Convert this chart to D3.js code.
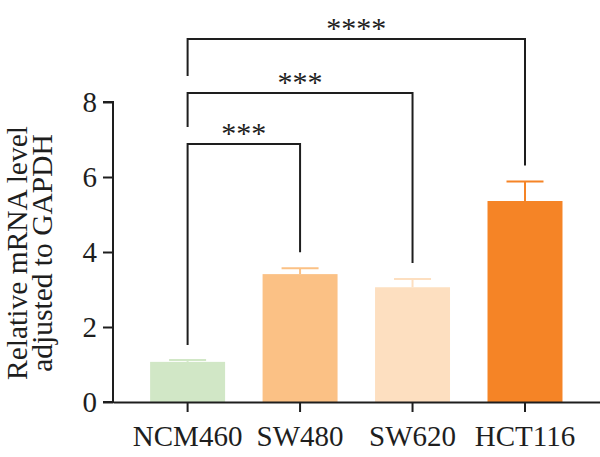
<!DOCTYPE html>
<html>
<head>
<meta charset="utf-8">
<script src="https://cdn.jsdelivr.net/npm/d3@7"></script>
<style>
  body { margin: 0; background: #fff; }
  svg { display: block; }
  text { font-family: "Liberation Serif", "DejaVu Serif", serif; fill: #1e1e1e; }
</style>
</head>
<body>
<svg id="chart" width="600" height="457"></svg>
<script>
// data
var groups = ["NCM460", "SW480", "SW620", "HCT116"];
var means = [1.07, 3.41, 3.06, 5.36];
var errors = [0.05, 0.16, 0.22, 0.52];
var colours = ["#d1e7c6", "#fbc185", "#fddfc0", "#f58426"];
var yTicks = [0, 2, 4, 6, 8];
// significance brackets: from group, to group, label, height in data units
var brackets = [
    { from: 0, to: 1, label: "***", level: 6.88 },
    { from: 0, to: 2, label: "***", level: 8.24 },
    { from: 0, to: 3, label: "****", level: 9.68 }
];

var svg = d3.select("#chart");

var x = d3.scaleBand()
    .domain(groups)
    .range([113, 599.6])
    .paddingInner(1 / 3)
    .paddingOuter(0.33);

var y = d3.scaleLinear()
    .domain([0, 8])
    .range([402, 102]);

var centre = function(i) {
    return x(groups[i]) + x.bandwidth() / 2;
};

// bars
svg.append("g").selectAll("rect")
    .data(means)
  .enter()
    .append("rect")
    .attr("x", function(d, i) { return x(groups[i]); })
    .attr("y", function(d) { return y(d); })
    .attr("width", x.bandwidth())
    .attr("height", function(d) { return y(0) - y(d); })
    .attr("fill", function(d, i) { return colours[i]; });

// error bars, upper half only
var err = svg.append("g").selectAll("g")
    .data(means)
  .enter()
    .append("g")
    .attr("stroke", function(d, i) { return colours[i]; })
    .attr("stroke-width", 2);

err.append("line")
    .attr("x1", function(d, i) { return centre(i); })
    .attr("x2", function(d, i) { return centre(i); })
    .attr("y1", function(d) { return y(d); })
    .attr("y2", function(d, i) { return y(d + errors[i]); });

err.append("line")
    .attr("x1", function(d, i) { return centre(i) - 18.5; })
    .attr("x2", function(d, i) { return centre(i) + 18.5; })
    .attr("y1", function(d, i) { return y(d + errors[i]); })
    .attr("y2", function(d, i) { return y(d + errors[i]); });

// axes
var yAxis = svg.append("g")
    .attr("transform", "translate(113,0)")
    .call(d3.axisLeft(y).tickValues(yTicks).tickSize(10).tickPadding(6));

var xAxis = svg.append("g")
    .attr("transform", "translate(0,402)")
    .call(d3.axisBottom(x).tickSize(10).tickPadding(13).tickSizeOuter(0));

[yAxis, xAxis].forEach(function(a) {
    a.select(".domain").attr("stroke", "#1e1e1e").attr("stroke-width", 2);
    a.selectAll(".tick line").attr("stroke", "#1e1e1e").attr("stroke-width", 2);
    a.selectAll(".tick text")
        .style("font-family", "'Liberation Serif', serif")
        .attr("font-size", 29)
        .attr("fill", "#1e1e1e");
});
yAxis.select(".domain").attr("d", "M-10," + y(8) + "H0V" + y(0) + "H-10");

// y title
var title = svg.append("text")
    .attr("transform", "translate(0,253) rotate(-90)")
    .attr("text-anchor", "middle")
    .attr("font-size", 29.5);
title.append("tspan").attr("x", 0).attr("y", 27).text("Relative mRNA level");
title.append("tspan").attr("x", 0).attr("y", 52).text("adjusted to GAPDH");

// significance brackets
var br = svg.append("g").selectAll("g")
    .data(brackets)
  .enter()
    .append("g");

br.append("path")
    .attr("fill", "none")
    .attr("stroke", "#1e1e1e")
    .attr("stroke-width", 2)
    .attr("d", function(b, k) {
        var below = k === 0 ? y(means[b.from] + errors[b.from]) - 15 : y(brackets[k - 1].level) - 17;
        var right = y(means[b.to] + errors[b.to]) - 16;
        return "M" + centre(b.from) + "," + below +
            "V" + y(b.level) +
            "H" + centre(b.to) +
            "V" + right;
    });

br.append("text")
    .attr("x", function(b) { return (centre(b.from) + centre(b.to)) / 2; })
    .attr("y", function(b) { return y(b.level) - 1; })
    .attr("text-anchor", "middle")
    .attr("font-size", 30)
    .text(function(b) { return b.label; });
</script>
</body>
</html>
